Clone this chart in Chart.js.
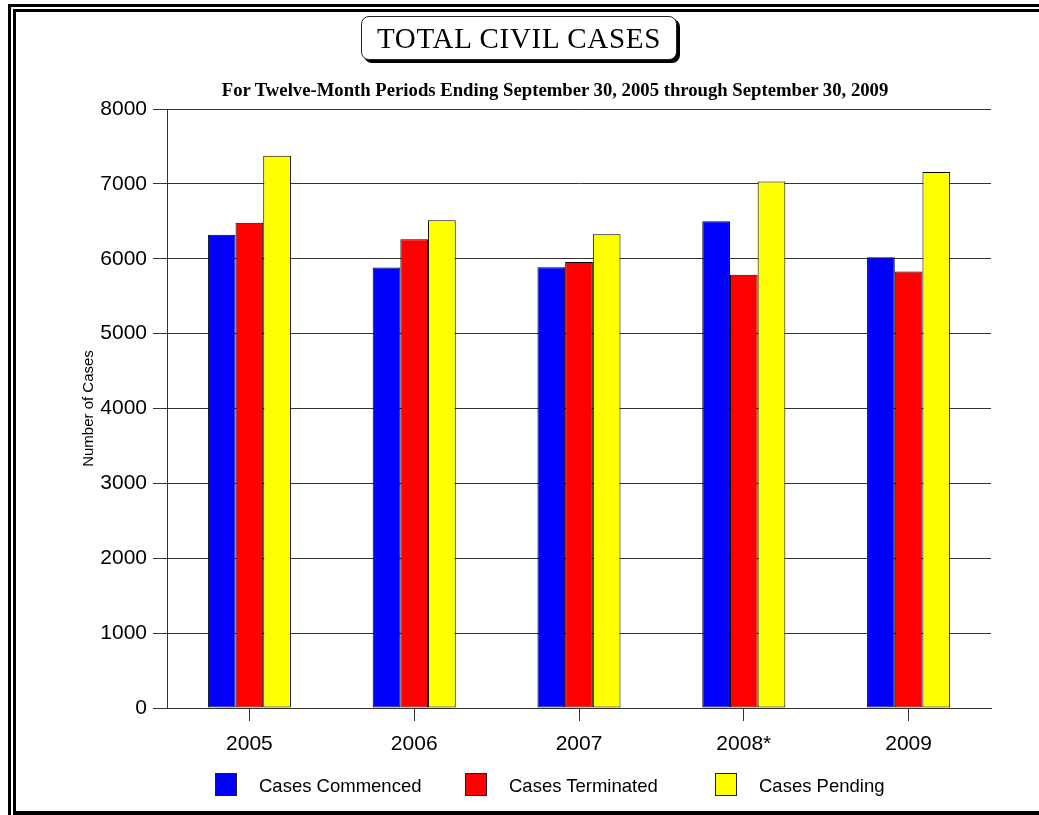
<!DOCTYPE html>
<html lang="en">
<head>
  <meta charset="UTF-8">
  <title>Total Civil Cases</title>
  <script src="https://cdn.jsdelivr.net/npm/chart.js"></script>
  <style>
    html, body {
      margin: 0;
      padding: 0;
      width: 1039px;
      height: 815px;
      overflow: hidden;
      background: #fff;
      font-family: "Liberation Sans", Arial, sans-serif;
    }
    #wrap {
      position: absolute;
      left: 0;
      top: 0;
      width: 1039px;
      height: 815px;
    }
    .frame {
      position: absolute;
      border: 3px solid #000;
      box-sizing: border-box;
    }
    #outer { left: 8px; top: 4px; width: 1100px; height: 900px; }
    #inner { left: 13px; top: 9px; width: 1100px; height: 806px; border-bottom-width: 4px; }
    #titleBox {
      position: absolute;
      left: 361px;
      top: 16px;
      width: 316px;
      height: 44px;
      box-sizing: border-box;
      border: 1.5px solid #222;
      border-radius: 8px;
      box-shadow: 3px 3px 0 #000;
      background: #fff;
      font-family: "Liberation Serif", "Times New Roman", serif;
      font-size: 29px;
      letter-spacing: 0.7px;
      line-height: 43px;
      text-align: center;
      color: #000;
    }
    #subtitle {
      position: absolute;
      left: 155px;
      width: 800px;
      top: 80px;
      text-align: center;
      white-space: nowrap;
      font-family: "Liberation Serif", "Times New Roman", serif;
      font-weight: bold;
      font-size: 18.7px;
      line-height: 19px;
      color: #000;
    }
    .leg {
      position: absolute;
      top: 773px;
      height: 23px;
      font-size: 18.5px;
      color: #000;
    }
    .leg .box {
      position: absolute;
      left: 0;
      top: 0;
      width: 22px;
      height: 23px;
      border: 1px solid #222;
      box-sizing: border-box;
    }
    .leg .txt {
      position: absolute;
      left: 44px;
      top: 1px;
      line-height: 23px;
      white-space: nowrap;
    }
  </style>
</head>
<body>
  <div id="wrap">
    <canvas id="chart" width="1039" height="815"></canvas>
  </div>
  <div class="frame" id="outer"></div>
  <div class="frame" id="inner"></div>
  <div id="titleBox">TOTAL CIVIL CASES</div>
  <div id="subtitle">For Twelve-Month Periods Ending September 30, 2005 through September 30, 2009</div>
  <div id="legend"></div>

  <script>
    const years = ['2005', '2006', '2007', '2008*', '2009'];
    const commenced = [6320, 5884, 5888, 6501, 6021];
    const terminated = [6480, 6261, 5955, 5787, 5831];
    const pending = [7377, 6515, 6328, 7031, 7160];
    const yMax = 8000;
    const yStep = 1000;

    const seriesNames = ['Cases Commenced', 'Cases Terminated', 'Cases Pending'];
    const seriesColors = ['#0000ff', '#ff0000', '#ffff00'];

    Chart.defaults.font.family = '"Liberation Sans", Arial, sans-serif';
    Chart.defaults.color = '#000';

    const makeSet = (i, data) => ({
      label: seriesNames[i],
      data: data,
      backgroundColor: seriesColors[i],
      borderColor: '#000',
      borderWidth: 1,
      borderSkipped: false,
      categoryPercentage: 0.504,
      barPercentage: 1.0,
    });

    const ctx = document.getElementById('chart').getContext('2d');
    const chart = new Chart(ctx, {
      type: 'bar',
      data: {
        labels: years,
        datasets: [
          makeSet(0, commenced),
          makeSet(1, terminated),
          makeSet(2, pending),
        ],
      },
      options: {
        responsive: false,
        animation: false,
        layout: {
          padding: { left: 76, top: 109, right: 48, bottom: 47 },
        },
        plugins: {
          legend: { display: false },
          tooltip: { enabled: false },
        },
        scales: {
          x: {
            grid: {
              offset: false,
              drawOnChartArea: false,
              drawTicks: true,
              tickLength: 13,
              color: '#333',
            },
            border: { display: true, color: '#333', width: 1 },
            ticks: { font: { size: 21 }, padding: 11, color: '#000' },
            afterFit: (s) => { s.height = 60; },
          },
          y: {
            min: 0,
            max: yMax,
            grid: {
              drawTicks: true,
              tickLength: 14,
              color: '#333',
            },
            border: { display: true, color: '#333', width: 1 },
            ticks: {
              stepSize: yStep,
              font: { size: 21 },
              padding: 6,
              color: '#000',
              callback: (v) => String(v),
            },
            title: {
              display: true,
              text: 'Number of Cases',
              font: { size: 15 },
              padding: { top: 4, bottom: 0 },
              color: '#000',
            },
            afterFit: (s) => { s.width = 91; },
          },
        },
      },
    });

    // legend row under the plot
    const legend = document.getElementById('legend');
    const legendLeft = [215, 465, 715];
    seriesNames.forEach((name, i) => {
      const item = document.createElement('div');
      item.className = 'leg';
      item.style.left = legendLeft[i] + 'px';
      item.innerHTML = '<div class="box" style="background:' + seriesColors[i] + '"></div>' +
        '<div class="txt">' + name + '</div>';
      legend.appendChild(item);
    });
  </script>
</body>
</html>
